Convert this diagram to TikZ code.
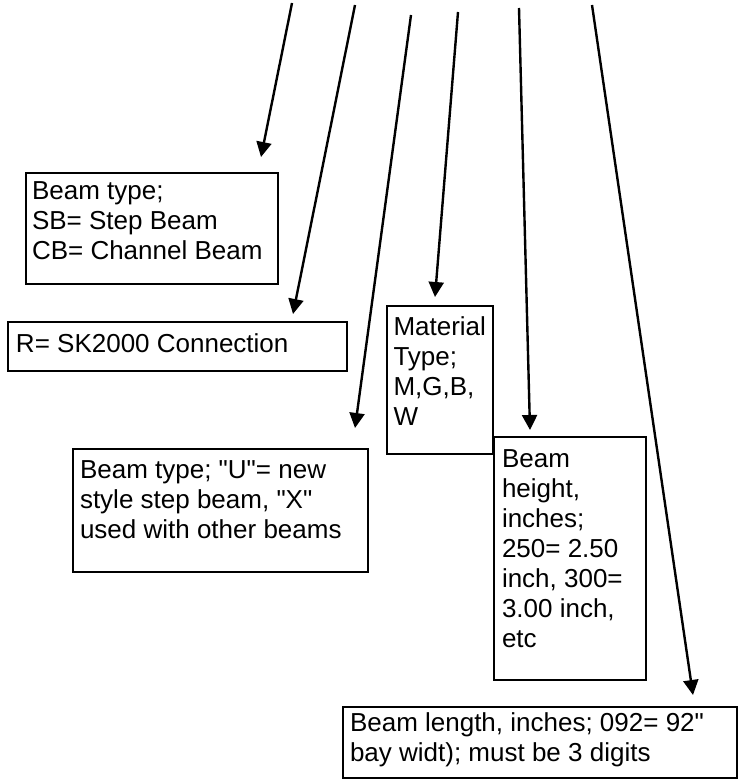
\documentclass[tikz,border=0pt]{standalone}
\usepackage{fontspec}
\setmainfont{Liberation Sans}[Ligatures=TeXOff]
\usetikzlibrary{arrows.meta}
\newcommand\bxtxt[4]{\parbox[t][#1][t]{#2}{\raggedright\rule{0pt}{#3}#4}}
\begin{document}
\begin{tikzpicture}[x=1pt,y=-1pt,
  bx/.style={draw, line width=1.6pt, inner ysep=0pt, outer sep=0pt,
    anchor=north west, font=\fontsize{26}{30}\selectfont},
  pointer/.style={draw, line width=2.4pt, -{Triangle[length=15pt,width=15pt]}}]
\useasboundingbox (0,0) rectangle (743,783);
% boxes
\node[bx, inner xsep=6pt] (b1) at (26,173)
  {\bxtxt{111pt}{240pt}{27pt}{Beam type;\\SB= Step Beam\\CB= Channel Beam}};
\node[bx, inner xsep=8pt] (b2) at (8,322)
  {\bxtxt{49pt}{323pt}{30pt}{R= SK2000 Connection}};
\node[bx, inner xsep=6.5pt] (b3) at (387,306)
  {\bxtxt{148pt}{93pt}{29pt}{Material\\Type;\\M,G,B,\\W}};
\node[bx, inner xsep=8pt] (b4) at (494,437)
  {\bxtxt{243pt}{136pt}{30pt}{Beam\\height,\\inches;\\250= 2.50\\inch, 300=\\3.00 inch,\\etc}};
\node[bx, inner xsep=7pt] (b5) at (73,449)
  {\bxtxt{123pt}{281pt}{29pt}{Beam type; "U"= new\\style step beam, "X"\\used with other beams}};
\node[bx, inner xsep=7pt] (b6) at (343,707)
  {\bxtxt{71pt}{380pt}{24pt}{Beam length, inches; 092= 92"\\bay widt); must be 3 digits}};
% arrow ends
\coordinate (s1) at (292,3);   \coordinate (t1) at (261,157);
\coordinate (s2) at (355,5);   \coordinate (t2) at (293,314);
\coordinate (s3) at (411,15);  \coordinate (t3) at (355,428);
\coordinate (s4) at (458,12);  \coordinate (t4) at (435,297);
\coordinate (s5) at (519,8);   \coordinate (t5) at (530,430);
\coordinate (s6) at (592,5);   \coordinate (t6) at (693,695);
\foreach \i in {1,...,6} \draw[pointer] (s\i) -- (t\i);
\end{tikzpicture}
\end{document}
